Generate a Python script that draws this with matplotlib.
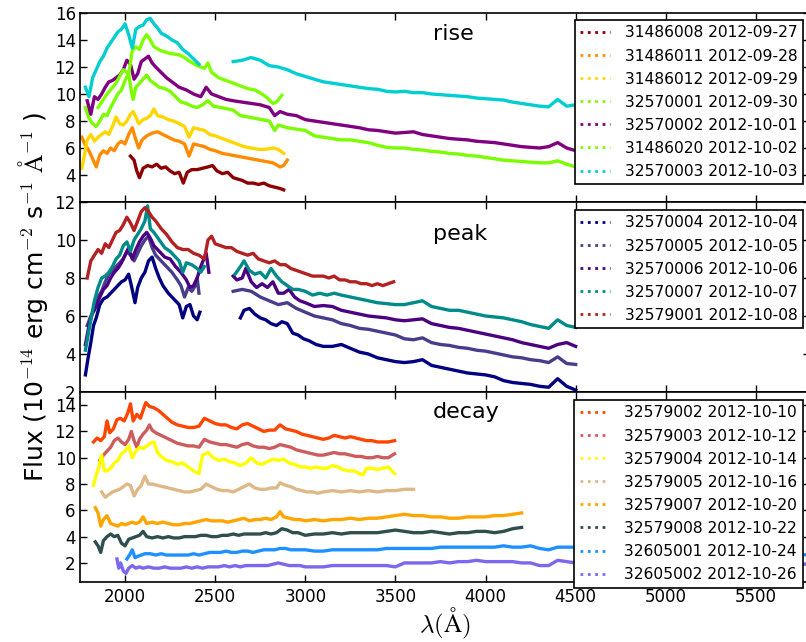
import numpy as np
import matplotlib
matplotlib.use("Agg")
import matplotlib.pyplot as plt
from matplotlib.lines import Line2D

plt.rcParams['font.family'] = ['DejaVu Sans']
plt.rcParams['mathtext.fontset'] = 'cm'

NaN = float('nan')

# ---------------- RISE ----------------
rise_labels = ['31486008 2012-09-27', '31486011 2012-09-28', '31486012 2012-09-29',
               '32570001 2012-09-30', '32570002 2012-10-01', '31486020 2012-10-02',
               '32570003 2012-10-03']
rise_colors = ['darkred', 'darkorange', 'gold', 'lawngreen', 'purple', 'chartreuse', 'darkturquoise']

wl_31486008 = [2030, 2050, 2065, 2080, 2100, 2125, 2150, 2175, 2200, 2225, 2250, 2275, 2300, 2323, 2345,
               2370, 2400, 2430, 2460, 2485, 2510, 2540, 2570, 2600, 2625, 2650, 2680, 2710, 2740, 2770,
               2800, 2830, 2860, 2880]
fx_31486008 = [5.4, 5.1, 4.3, 3.8, 4.5, 4.7, 4.6, 4.8, 4.5, 4.6, 4.3, 4.1, 4.2, 3.4, 4.2,
               4.4, 4.4, 4.5, 4.6, 4.7, 4.3, 4.1, 4.2, 3.8, 3.7, 3.6, 3.4, 3.4, 3.3, 3.4,
               3.2, 3.1, 3.0, 2.9]

wl_31486011 = [1760, 1780, 1800, 1820, 1840, 1860, 1880, 1900, 1920, 1940, 1960, 1980, 2000, 2020, 2040,
               2060, 2075, 2095, 2120, 2150, 2180, 2210, 2240, 2270, 2300, 2330, 2355, 2380, 2410, 2440,
               2470, 2500, 2540, 2580, 2620, 2660, 2700, 2740, 2780, 2820, 2860, 2880, 2900]
fx_31486011 = [6.8, 6.2, 5.8, 5.2, 4.6, 5.5, 5.8, 5.6, 6.0, 5.8, 6.3, 6.5, 6.3, 7.0, 7.5,
               6.6, 6.0, 6.6, 6.9, 7.1, 7.2, 7.0, 6.8, 6.6, 6.5, 6.3, 5.4, 6.3, 6.2, 6.1,
               5.9, 5.8, 5.6, 5.5, 5.4, 5.3, 5.2, 5.1, 5.0, 4.9, 4.6, 4.7, 5.1]

wl_31486012 = [1760, 1775, 1790, 1810, 1830, 1850, 1870, 1890, 1910, 1930, 1950, 1970, 1990, 2010, 2030,
               2045, 2060, 2075, 2100, 2120, 2140, 2160, 2180, 2210, 2240, 2270, 2300, 2330, 2355, 2380,
               2410, 2440, 2470, 2500, 2540, 2580, 2620, 2660, 2700, 2740, 2780, 2820, 2850, 2880]
fx_31486012 = [4.5, 5.5, 6.6, 7.0, 6.5, 6.8, 7.0, 7.2, 7.0, 7.6, 8.3, 7.8, 7.7, 8.0, 8.5,
               8.7, 8.3, 7.8, 8.1, 8.2, 8.4, 8.9, 8.4, 8.3, 8.1, 8.0, 7.8, 7.6, 6.8, 7.5,
               7.4, 7.3, 7.0, 6.9, 6.7, 6.5, 6.3, 6.1, 6.0, 5.9, 5.9, 6.0, 5.9, 5.6]

wl_32570001 = [1780, 1800, 1820, 1840, 1860, 1880, 1900, 1920, 1940, 1960, 1980, 2000, 2020, 2035, 2045,
               2060, 2080, 2100, 2120, 2140, 2160, 2190, 2220, 2250, 2280, 2310, 2340, 2370, 2400, 2430,
               2460, 2490, 2530, 2570, 2600, 2620, 2640, 2680, 2720, 2760, 2800, 2830, 2850, 2900, 2950,
               3000, 3050, 3100, 3150, 3200, 3250, 3300, 3350, 3400, 3450, 3500, 3550, 3600, 3650, 3700,
               3750, 3800, 3850, 3900, 3950, 4000, 4050, 4100, 4150, 4200, 4250, 4300, 4350, 4400, 4450,
               4500]
fx_32570001 = [9.0, 8.2, 7.8, 7.6, 8.0, 8.5, 8.4, 9.0, 9.5, 10.0, 10.3, 11.0, 11.5, 10.2, 9.6,
               10.5, 10.8, 11.1, 11.4, 11.0, 10.8, 10.5, 10.4, 10.2, 9.8, 9.4, 9.3, 9.1, 9.0, 9.2,
               9.5, 9.1, 9.0, 8.9, 8.8, 8.6, 8.4, 8.3, 8.2, 8.1, 8.0, 7.3, 7.7, 7.5, 7.4,
               7.3, 6.9, 6.8, 6.7, 6.6, 6.6, 6.5, 6.4, 6.2, 6.05, 6.0, 6.0, 5.9, 5.85, 5.75,
               5.7, 5.6, 5.55, 5.45, 5.4, 5.3, 5.2, 5.1, 5.05, 5.0, 4.95, 4.9, 4.9, 5.05, 4.8,
               4.6]

wl_32570002 = [1790, 1810, 1830, 1850, 1870, 1890, 1910, 1930, 1950, 1970, 1990, 2010, 2030, 2050, 2070,
               2090, 2110, 2130, 2150, 2170, 2200, 2230, 2260, 2300, 2340, 2380, 2420, 2450, 2480, 2520,
               2560, 2600, 2650, 2700, 2750, 2800, 2830, 2860, 2900, 2950, 3000, 3050, 3100, 3150, 3200,
               3250, 3300, 3350, 3400, 3450, 3500, 3550, 3600, 3650, 3700, 3750, 3800, 3850, 3900, 3950,
               4000, 4050, 4100, 4150, 4200, 4250, 4300, 4350, 4400, 4450, 4500]
fx_32570002 = [9.5, 8.5, 9.8, 9.6, 10.0, 10.5, 10.9, 11.0, 11.2, 11.4, 11.8, 12.5, 12.2, 11.1, 11.5,
               12.4, 12.6, 12.8, 12.3, 12.0, 11.6, 11.2, 10.9, 10.5, 10.3, 10.0, 9.8, 10.5, 10.0, 9.8,
               9.6, 9.5, 9.4, 9.3, 9.2, 9.0, 8.4, 8.7, 8.5, 8.4, 8.1, 8.0, 7.9, 7.8, 7.7,
               7.6, 7.5, 7.35, 7.3, 7.2, 7.1, 7.15, 7.2, 7.0, 6.9, 6.8, 6.7, 6.65, 6.6, 6.5,
               6.45, 6.4, 6.3, 6.2, 6.1, 6.05, 6.0, 6.1, 6.4, 6.0, 5.8]

wl_31486020 = [1850, 1900, 1950, 1990, 2020, 2040, 2060, 2080, 2100, 2120, 2140, 2160, 2200, 2250, 2300,
               2330, 2360, 2400, 2440, 2460, 2480, 2520, 2560, 2600, 2640, 2680, 2720, 2760, 2790, 2820,
               2840, 2870]
fx_31486020 = [9.0, 10.0, 10.8, 11.8, 11.5, 13.2, 13.5, 13.3, 14.0, 14.4, 14.0, 13.5, 13.2, 13.0, 12.9,
               12.7, 12.4, 12.1, 11.9, 12.3, 11.6, 11.2, 11.0, 10.8, 10.6, 10.4, 10.3, 10.0, 9.7, 9.3,
               9.4, 9.9]

wl_32570003 = [1780, 1800, 1820, 1840, 1860, 1880, 1900, 1920, 1940, 1960, 1980, 2000, 2020, 2040, 2060,
               2080, 2100, 2120, 2140, 2160, 2180, 2200, 2230, 2260, 2290, 2320, 2350, 2380, 2410, 2500,
               2600, 2650, 2700, 2750, 2800, 2850, 2900, 2950, 3000, 3050, 3100, 3150, 3200, 3250, 3300,
               3350, 3400, 3450, 3500, 3550, 3600, 3650, 3700, 3750, 3800, 3850, 3900, 3950, 4000, 4050,
               4100, 4150, 4200, 4250, 4300, 4350, 4400, 4450, 4500]
fx_32570003 = [10.5, 9.8, 11.2, 11.8, 12.4, 12.8, 13.4, 13.8, 14.2, 14.6, 14.8, 15.2, 14.4, 13.4, 14.8,
               15.0, 15.1, 15.5, 15.6, 15.2, 14.9, 14.5, 14.3, 14.0, 13.8, 13.3, 13.0, 12.6, 12.2, NaN,
               12.4, 12.5, 12.7, 12.5, 12.1, 12.0, 11.8, 11.5, 11.3, 11.1, 10.9, 10.8, 10.7, 10.6, 10.5,
               10.4, 10.35, 10.2, 10.15, 10.2, 10.1, 10.1, 10.0, 9.95, 9.9, 9.85, 9.8, 9.7, 9.65, 9.6,
               9.55, 9.4, 9.3, 9.2, 9.1, 9.05, 9.6, 9.1, 9.2]

rise_wl = [wl_31486008, wl_31486011, wl_31486012, wl_32570001, wl_32570002, wl_31486020, wl_32570003]
rise_fx = [fx_31486008, fx_31486011, fx_31486012, fx_32570001, fx_32570002, fx_31486020, fx_32570003]

# ---------------- PEAK ----------------
peak_labels = ['32570004 2012-10-04', '32570005 2012-10-05', '32570006 2012-10-06',
               '32570007 2012-10-07', '32579001 2012-10-08']
peak_colors = ['navy', 'darkslateblue', 'indigo', 'darkcyan', 'firebrick']

wl_32570004 = [1780, 1795, 1810, 1825, 1840, 1860, 1880, 1900, 1920, 1940, 1960, 1980, 2000, 2020, 2035,
               2055, 2070, 2090, 2110, 2130, 2150, 2170, 2190, 2210, 2240, 2270, 2300, 2320, 2340, 2360,
               2380, 2400, 2415, 2500,
               2640, 2660, 2690, 2720, 2750, 2780, 2810, 2840, 2870, 2900, 2930, 2960, 2990, 3020, 3060,
               3100, 3150, 3200, 3250, 3300, 3350, 3400, 3450, 3500, 3550, 3600, 3650, 3700, 3750, 3800,
               3850, 3900, 3950, 4000, 4050, 4100, 4150, 4200, 4250, 4300, 4350, 4400, 4450, 4500]
fx_32570004 = [2.9, 3.8, 4.6, 5.5, 5.9, 6.6, 6.9, 7.0, 7.2, 7.4, 7.6, 7.8, 7.9, 8.2, 7.6,
               6.7, 7.5, 8.0, 8.3, 8.9, 9.1, 8.5, 8.0, 7.6, 7.2, 6.9, 6.6, 5.9, 6.5, 6.6,
               6.0, 5.8, 6.2, NaN,
               5.9, 6.3, 6.4, 6.1, 5.9, 5.8, 5.6, 5.5, 5.7, 5.6, 5.1, 5.0, 4.8, 4.7, 4.5,
               4.4, 4.4, 4.5, 4.3, 4.1, 4.0, 3.8, 3.7, 3.6, 3.55, 3.6, 3.7, 3.4, 3.3, 3.2,
               3.1, 3.0, 2.95, 2.9, 2.8, 2.6, 2.5, 2.45, 2.4, 2.3, 2.25, 2.7, 2.3, 2.1]

wl_32570005 = [1790, 1810, 1830, 1850, 1870, 1890, 1910, 1930, 1950, 1970, 1990, 2010, 2030, 2050, 2070,
               2090, 2110, 2130, 2150, 2170, 2200, 2230, 2260, 2290, 2310, 2330, 2350, 2370, 2390, 2400,
               2410, 2500,
               2600, 2650, 2700, 2750, 2800, 2850, 2900, 2950, 3000, 3050, 3100, 3150, 3200, 3250, 3300,
               3350, 3400, 3450, 3500, 3550, 3600, 3650, 3700, 3750, 3800, 3850, 3900, 3950, 4000, 4050,
               4100, 4150, 4200, 4250, 4300, 4350, 4400, 4450, 4500]
fx_32570005 = [5.5, 6.0, 6.3, 7.0, 7.3, 7.8, 8.2, 8.4, 8.6, 8.8, 9.0, 9.4, 9.2, 8.9, 9.3,
               9.7, 10.0, 10.2, 9.6, 9.2, 8.9, 8.6, 8.3, 7.9, 7.6, 7.0, 7.5, 7.3, 7.6, 8.0,
               7.2, NaN,
               7.3, 7.4, 7.3, 7.0, 6.8, 6.6, 6.7, 6.4, 6.2, 6.0, 5.9, 5.8, 5.6, 5.5, 5.35,
               5.3, 5.2, 5.1, 5.0, 4.8, 4.75, 4.85, 4.6, 4.5, 4.45, 4.35, 4.3, 4.2, 4.15, 4.05,
               3.95, 3.85, 3.8, 3.7, 3.65, 3.55, 3.85, 3.5, 3.45]

wl_32570006 = [1780, 1800, 1820, 1840, 1860, 1880, 1900, 1920, 1940, 1960, 1980, 2000, 2020, 2040, 2060,
               2080, 2100, 2120, 2140, 2160, 2190, 2220, 2250, 2280, 2310, 2340, 2360, 2380, 2400, 2420,
               2450, 2465, 2530,
               2600, 2620, 2650, 2670, 2700, 2730, 2760, 2790, 2820, 2850, 2880, 2910, 2940, 2970, 3000,
               3050, 3100, 3150, 3200, 3250, 3300, 3350, 3400, 3450, 3500, 3550, 3600, 3650, 3700, 3750,
               3800, 3850, 3900, 3950, 4000, 4050, 4100, 4150, 4200, 4250, 4300, 4350, 4400, 4450, 4500]
fx_32570006 = [4.5, 5.5, 6.2, 6.5, 7.0, 7.4, 7.6, 8.0, 8.3, 8.5, 8.8, 9.2, 9.6, 9.0, 9.5,
               9.9, 10.2, 10.4, 10.1, 9.7, 9.4, 9.1, 9.0, 8.6, 8.3, 7.9, 7.5, 7.6, 8.0, 8.6,
               9.3, 8.3, NaN,
               8.1, 7.9, 8.0, 8.5, 7.8, 7.5, 7.7, 7.5, 7.8, 7.2, 7.2, 7.4, 7.0, 6.8, 6.7,
               6.5, 6.55, 6.5, 6.3, 6.2, 6.1, 6.0, 5.95, 5.9, 5.8, 5.75, 5.8, 5.85, 5.6, 5.5,
               5.4, 5.35, 5.25, 5.15, 5.05, 4.95, 4.85, 4.75, 4.6, 4.5, 4.4, 4.3, 4.5, 4.6, 4.4]

wl_32570007 = [1780, 1795, 1810, 1830, 1850, 1870, 1890, 1910, 1930, 1950, 1970, 1990, 2010, 2030, 2050,
               2070, 2090, 2110, 2125, 2140, 2160, 2190, 2220, 2250, 2280, 2300, 2320, 2340, 2370, 2400,
               2420, 2440, 2520,
               2610, 2640, 2660, 2690, 2720, 2750, 2780, 2810, 2840, 2870, 2900, 2930, 2960, 3000, 3040,
               3080, 3120, 3160, 3200, 3250, 3300, 3350, 3400, 3450, 3500, 3550, 3600, 3650, 3700, 3750,
               3800, 3850, 3900, 3950, 4000, 4050, 4100, 4150, 4200, 4250, 4300, 4350, 4400, 4450, 4500]
fx_32570007 = [4.2, 5.0, 5.8, 6.8, 7.5, 8.0, 8.1, 8.3, 8.6, 9.0, 9.2, 9.7, 9.9, 9.4, 10.0,
               10.3, 10.6, 11.0, 11.8, 10.6, 10.4, 10.0, 9.6, 9.4, 9.1, 8.9, 8.3, 8.8, 8.7, 8.5,
               8.3, 8.6, NaN,
               8.2, 8.6, 8.9, 8.4, 8.2, 8.3, 8.0, 8.5, 8.1, 7.8, 7.6, 7.4, 7.4, 7.3, 7.1,
               7.2, 7.1, 7.2, 7.1, 7.0, 6.9, 6.8, 6.7, 6.65, 6.6, 6.6, 6.7, 6.8, 6.5, 6.4,
               6.3, 6.3, 6.2, 6.1, 6.0, 5.95, 5.9, 5.8, 5.7, 5.55, 5.45, 5.35, 5.8, 5.5, 5.4]

wl_32579001 = [1790, 1810, 1830, 1850, 1870, 1890, 1910, 1930, 1950, 1970, 1990, 2010, 2030, 2050, 2070,
               2090, 2110, 2130, 2150, 2170, 2200, 2230, 2260, 2290, 2320, 2350, 2380, 2410, 2440, 2460,
               2480, 2500, 2530, 2560, 2590, 2620, 2650, 2680, 2710, 2740, 2770, 2800, 2830, 2860, 2890,
               2920, 2950, 2980, 3010, 3040, 3070, 3100, 3130, 3160, 3190, 3220, 3250, 3280, 3310, 3340,
               3370, 3400, 3430, 3460, 3490]
fx_32579001 = [8.0, 8.9, 9.2, 9.5, 9.3, 9.8, 9.6, 10.0, 10.4, 10.5, 10.8, 11.2, 10.9, 10.5, 11.0,
               11.5, 11.7, 11.5, 11.2, 11.0, 10.6, 10.3, 9.9, 9.6, 9.5, 9.5, 9.3, 9.2, 9.0, 10.0,
               10.2, 9.8, 9.7, 9.6, 9.6, 9.4, 9.3, 9.2, 9.3, 9.0, 8.9, 8.8, 8.9, 8.7, 8.7,
               8.5, 8.4, 8.3, 8.2, 8.1, 8.1, 8.1, 8.0, 8.1, 7.9, 7.9, 7.8, 7.8, 7.7, 7.7,
               7.6, 7.7, 7.6, 7.7, 7.8]

peak_wl = [wl_32570004, wl_32570005, wl_32570006, wl_32570007, wl_32579001]
peak_fx = [fx_32570004, fx_32570005, fx_32570006, fx_32570007, fx_32579001]

# ---------------- DECAY ----------------
decay_labels = ['32579002 2012-10-10', '32579003 2012-10-12', '32579004 2012-10-14',
                '32579005 2012-10-16', '32579007 2012-10-20', '32579008 2012-10-22',
                '32605001 2012-10-24', '32605002 2012-10-26']
decay_colors = ['orangered', 'indianred', 'yellow', 'burlywood', 'orange', 'darkslategray',
                'dodgerblue', 'mediumslateblue']

wl_32579002 = [1825, 1845, 1865, 1885, 1900, 1915, 1935, 1955, 1975, 1995, 2015, 2030, 2045, 2065, 2085,
               2105, 2115, 2135, 2160, 2185, 2210, 2235, 2260, 2290, 2320, 2350, 2380, 2410, 2440, 2470,
               2500, 2530, 2560, 2590, 2620, 2650, 2680, 2710, 2740, 2770, 2800, 2830, 2860, 2890, 2920,
               2950, 2980, 3010, 3040, 3070, 3100, 3130, 3160, 3190, 3220, 3250, 3280, 3310, 3340, 3370,
               3400, 3430, 3460, 3495]
fx_32579002 = [11.2, 11.5, 11.3, 11.6, 12.8, 11.9, 12.2, 12.9, 13.0, 12.8, 13.4, 14.1, 12.8, 13.3, 13.0,
               13.8, 14.2, 13.9, 13.8, 13.6, 13.3, 13.0, 12.7, 12.5, 12.4, 12.3, 12.3, 12.4, 13.0, 12.8,
               12.6, 12.5, 12.5, 12.3, 12.2, 12.5, 12.6, 12.4, 12.2, 12.0, 12.1, 12.1, 12.5, 12.2, 12.1,
               12.0, 11.8, 11.7, 11.6, 11.5, 11.4, 11.5, 11.7, 11.6, 11.5, 11.6, 11.5, 11.4, 11.3, 11.3,
               11.2, 11.2, 11.2, 11.3]

wl_32579003 = [1860, 1880, 1900, 1920, 1940, 1960, 1980, 2000, 2020, 2035, 2050, 2065, 2080, 2100, 2120,
               2135, 2150, 2170, 2200, 2230, 2260, 2290, 2320, 2350, 2380, 2410, 2440, 2470, 2500, 2530,
               2560, 2590, 2620, 2650, 2680, 2710, 2740, 2770, 2800, 2830, 2860, 2890, 2920, 2950, 2980,
               3010, 3040, 3070, 3100, 3130, 3160, 3190, 3220, 3250, 3280, 3310, 3340, 3370, 3400, 3430,
               3460, 3495]
fx_32579003 = [9.8, 10.2, 10.5, 10.8, 11.3, 11.5, 11.2, 11.0, 11.4, 12.0, 11.3, 10.8, 11.4, 11.8, 12.1,
               12.5, 12.1, 11.9, 11.7, 11.5, 11.3, 11.1, 11.0, 10.9, 10.9, 10.8, 11.4, 11.2, 11.1, 11.0,
               11.0, 10.9, 10.8, 11.0, 11.1, 10.9, 10.8, 10.8, 10.7, 10.8, 11.0, 10.9, 10.8, 10.6, 10.5,
               10.4, 10.3, 10.2, 10.2, 10.3, 10.4, 10.3, 10.3, 10.2, 10.1, 10.1, 10.0, 10.0, 10.1, 10.0,
               10.0, 10.3]

wl_32579004 = [1825, 1840, 1855, 1870, 1885, 1900, 1920, 1940, 1960, 1980, 2000, 2020, 2040, 2060, 2080,
               2100, 2120, 2140, 2160, 2180, 2200, 2230, 2260, 2290, 2320, 2350, 2380, 2410, 2430, 2460,
               2490, 2520, 2550, 2580, 2610, 2640, 2670, 2700, 2730, 2760, 2790, 2820, 2850, 2880, 2910,
               2940, 2970, 3000, 3030, 3060, 3090, 3120, 3150, 3180, 3210, 3240, 3270, 3300, 3320, 3340,
               3370, 3400, 3430, 3460, 3495]
fx_32579004 = [7.9, 8.7, 9.3, 10.2, 9.0, 9.0, 9.2, 9.6, 9.8, 10.3, 10.5, 10.9, 10.0, 10.5, 10.8,
               10.7, 10.9, 11.1, 11.2, 10.4, 10.1, 9.8, 9.7, 9.5, 9.6, 9.3, 9.0, 8.8, 10.2, 10.4,
               10.0, 9.8, 9.9, 9.7, 9.6, 9.4, 9.6, 10.0, 9.6, 9.5, 9.7, 9.9, 9.8, 9.9, 9.6,
               9.5, 9.3, 9.3, 9.2, 9.3, 9.2, 9.2, 9.4, 9.3, 9.1, 9.0, 9.0, 8.8, 8.7, 9.2,
               9.2, 9.1, 9.2, 9.3, 8.8]

wl_32579005 = [1870, 1890, 1910, 1930, 1950, 1970, 1990, 2010, 2030, 2050, 2070, 2090, 2110, 2130, 2150,
               2180, 2210, 2240, 2270, 2300, 2330, 2360, 2390, 2420, 2450, 2480, 2510, 2540, 2570, 2600,
               2630, 2660, 2690, 2720, 2750, 2780, 2810, 2840, 2860, 2890, 2920, 2950, 2980, 3010, 3040,
               3070, 3100, 3150, 3200, 3250, 3300, 3350, 3400, 3450, 3500, 3550, 3600]
fx_32579005 = [7.4, 7.0, 7.2, 7.4, 7.5, 7.6, 7.8, 8.0, 7.9, 7.1, 7.6, 7.9, 8.6, 8.0, 8.0,
               7.9, 7.8, 7.7, 7.6, 7.5, 7.4, 7.4, 7.5, 7.6, 8.0, 7.8, 7.6, 7.5, 7.5, 7.4,
               7.6, 7.8, 8.0, 7.7, 7.6, 7.6, 7.7, 7.7, 8.1, 7.9, 7.8, 7.6, 7.5, 7.4, 7.4,
               7.3, 7.4, 7.5, 7.4, 7.5, 7.4, 7.5, 7.4, 7.5, 7.5, 7.6, 7.6]

wl_32579007 = [1835, 1850, 1865, 1880, 1900, 1920, 1940, 1960, 1980, 2000, 2020, 2040, 2060, 2080, 2100,
               2120, 2150, 2180, 2210, 2240, 2270, 2300, 2330, 2360, 2390, 2420, 2450, 2480, 2510, 2540,
               2570, 2600, 2630, 2660, 2690, 2720, 2750, 2780, 2810, 2840, 2860, 2880, 2910, 2940, 2970,
               3000, 3050, 3100, 3150, 3200, 3250, 3300, 3350, 3400, 3450, 3500, 3550, 3600, 3650, 3700,
               3750, 3800, 3850, 3900, 3950, 4000, 4050, 4100, 4150, 4200]
fx_32579007 = [6.2, 5.8, 4.8, 5.3, 5.6, 5.0, 4.9, 4.8, 5.0, 4.9, 5.0, 5.1, 5.0, 5.1, 5.5,
               5.0, 5.1, 5.0, 5.1, 5.0, 4.9, 4.9, 5.0, 5.0, 5.1, 5.2, 5.3, 5.2, 5.2, 5.2,
               5.1, 5.2, 5.3, 5.4, 5.2, 5.3, 5.3, 5.4, 5.3, 5.5, 5.9, 5.5, 5.4, 5.3, 5.3,
               5.2, 5.3, 5.2, 5.3, 5.3, 5.4, 5.3, 5.4, 5.4, 5.5, 5.6, 5.7, 5.6, 5.6, 5.5,
               5.5, 5.4, 5.4, 5.5, 5.5, 5.5, 5.6, 5.6, 5.7, 5.8]

wl_32579008 = [1835, 1850, 1865, 1880, 1900, 1920, 1940, 1960, 1980, 2000, 2020, 2040, 2060, 2080, 2100,
               2120, 2150, 2180, 2210, 2240, 2270, 2300, 2330, 2360, 2390, 2420, 2450, 2480, 2510, 2540,
               2570, 2600, 2630, 2660, 2690, 2720, 2750, 2780, 2810, 2840, 2870, 2900, 2930, 2960, 3000,
               3050, 3100, 3150, 3200, 3250, 3300, 3350, 3400, 3450, 3500, 3550, 3600, 3650, 3700, 3750,
               3800, 3850, 3900, 3950, 4000, 4050, 4100, 4150, 4200]
fx_32579008 = [3.6, 3.3, 2.8, 3.7, 4.0, 4.2, 4.0, 4.1, 3.5, 3.3, 3.8, 3.9, 4.0, 4.1, 4.4,
               4.0, 3.9, 4.0, 3.9, 4.0, 3.9, 3.9, 4.0, 4.0, 4.0, 4.1, 4.1, 4.0, 4.0, 4.1,
               4.1, 4.2, 4.1, 4.2, 4.2, 4.2, 4.2, 4.3, 4.2, 4.3, 4.6, 4.5, 4.3, 4.3, 4.1,
               4.2, 4.2, 4.3, 4.2, 4.3, 4.3, 4.3, 4.3, 4.4, 4.5, 4.4, 4.3, 4.3, 4.4, 4.3,
               4.2, 4.3, 4.3, 4.4, 4.4, 4.3, 4.4, 4.6, 4.7]

wl_32605001 = [2010, 2025, 2040, 2055, 2070, 2090, 2110, 2140, 2170, 2200, 2230, 2260, 2290, 2320, 2350,
               2380, 2410, 2440, 2470, 2500, 2530, 2560, 2590, 2620, 2650, 2680, 2710, 2740, 2770, 2800,
               2830, 2860, 2890, 2920, 2950, 3000, 3050, 3100, 3150, 3200, 3250, 3300, 3350, 3400, 3450,
               3500, 3550, 3600, 3650, 3700, 3750, 3800, 3850, 3900, 3950, 4000, 4050, 4100, 4150, 4200,
               4250, 4300, 4350, 4400, 4450, 4500, 4600, 4700, 4800, 4900, 5000, 5100, 5200, 5300, 5400,
               5500, 5600, 5700, 5790]
fx_32605001 = [2.3, 2.6, 3.0, 2.4, 2.5, 2.6, 2.7, 2.7, 2.6, 2.7, 2.6, 2.6, 2.6, 2.6, 2.6,
               2.7, 2.6, 2.7, 2.8, 2.8, 2.8, 2.9, 2.8, 2.8, 2.9, 2.9, 2.8, 2.9, 3.0, 3.0,
               3.0, 3.1, 3.1, 3.0, 3.0, 3.0, 2.9, 2.9, 3.0, 3.0, 3.0, 3.0, 3.0, 3.0, 3.1,
               3.1, 3.1, 3.1, 3.1, 3.1, 3.2, 3.2, 3.2, 3.2, 3.2, 3.2, 3.2, 3.3, 3.2, 3.2,
               3.3, 3.1, 3.0, 3.2, 3.2, 3.2, 3.1, 3.1, 3.0, 3.0, 2.9, 2.9, 2.9, 2.8, 2.8,
               2.8, 2.7, 2.7, 2.6]

wl_32605002 = [1955, 1965, 1975, 1990, 2005, 2020, 2040, 2060, 2080, 2100, 2130, 2160, 2190, 2220, 2250,
               2280, 2310, 2340, 2370, 2400, 2430, 2460, 2490, 2520, 2550, 2580, 2610, 2640, 2670, 2700,
               2730, 2760, 2790, 2820, 2850, 2880, 2910, 2940, 2970, 3000, 3050, 3100, 3150, 3200, 3250,
               3300, 3350, 3400, 3450, 3500, 3550, 3600, 3650, 3700, 3750, 3800, 3850, 3900, 3950, 4000,
               4050, 4100, 4150, 4200, 4250, 4300, 4350, 4400, 4450, 4500, 4600, 4700, 4800, 4900, 5000,
               5100, 5200, 5300, 5400, 5500, 5600, 5700, 5790]
fx_32605002 = [2.3, 1.6, 2.0, 1.4, 1.2, 1.6, 1.8, 1.6, 1.7, 1.6, 1.7, 1.6, 1.6, 1.7, 1.6,
               1.6, 1.6, 1.7, 1.6, 1.7, 1.6, 1.7, 1.7, 1.7, 1.8, 1.7, 1.8, 1.7, 1.8, 1.8,
               1.8, 1.8, 1.8, 1.9, 2.0, 1.9, 1.8, 1.8, 1.8, 1.7, 1.7, 1.7, 1.8, 1.8, 1.8,
               1.8, 1.8, 1.8, 1.8, 1.7, 2.0, 2.0, 2.0, 2.0, 2.1, 2.0, 2.1, 2.1, 2.2, 2.1,
               2.1, 2.1, 2.1, 2.0, 2.0, 1.8, 1.8, 2.2, 2.1, 2.0, 2.0, 2.0, 1.9, 1.9, 1.9,
               1.9, 1.9, 1.9, 1.9, 1.9, 1.9, 1.9, 1.9]

decay_wl = [wl_32579002, wl_32579003, wl_32579004, wl_32579005, wl_32579007, wl_32579008,
            wl_32605001, wl_32605002]
decay_fx = [fx_32579002, fx_32579003, fx_32579004, fx_32579005, fx_32579007, fx_32579008,
            fx_32605001, fx_32605002]

# ---------------- FIGURE ----------------
W, H = 806, 642
fig = plt.figure(figsize=(W / 100, H / 100), dpi=100)

def px_box(x0, y0, x1, y1):
    return [x0 / W, 1 - y1 / H, (x1 - x0) / W, (y1 - y0) / H]

panels = [
    dict(box=px_box(80, 13, 810, 202), ylim=(2, 16), yticks=[4, 6, 8, 10, 12, 14, 16],
         wl=rise_wl, fx=rise_fx, labels=rise_labels, colors=rise_colors,
         name='rise', name_y=40, leg_top=20),
    dict(box=px_box(80, 202, 810, 392), ylim=(2, 12), yticks=[2, 4, 6, 8, 10, 12],
         wl=peak_wl, fx=peak_fx, labels=peak_labels, colors=peak_colors,
         name='peak', name_y=240, leg_top=210),
    dict(box=px_box(80, 392, 810, 582), ylim=(0.55, 15), yticks=[2, 4, 6, 8, 10, 12, 14],
         wl=decay_wl, fx=decay_fx, labels=decay_labels, colors=decay_colors,
         name='decay', name_y=418, leg_top=400),
]

axes = []
for p in panels:
    ax = fig.add_axes(p['box'])
    for wl, fx, c in zip(p['wl'], p['fx'], p['colors']):
        ax.plot(wl, fx, color=c, lw=2.4, solid_joinstyle='round')
    ax.set_xlim(1750, 5800)
    ax.set_ylim(*p['ylim'])
    ax.set_yticks(p['yticks'])
    ax.set_xticks([2000, 2500, 3000, 3500, 4000, 4500, 5000, 5500])
    ax.tick_params(direction='in', length=5, width=1, top=True, right=True, labelsize=12)
    ax.tick_params(axis='x', pad=4)
    ax.tick_params(axis='y', pad=3)
    for s in ax.spines.values():
        s.set_linewidth(1.2)
    handles = [Line2D([], [], color=c, ls=':', lw=2) for c in p['colors']]
    leg = ax.legend(handles, p['labels'], loc='upper right',
                    bbox_to_anchor=(803 / W, 1 - p['leg_top'] / H),
                    bbox_transform=fig.transFigure, borderaxespad=0,
                    fontsize=11.2, labelspacing=0.52, handlelength=1.9,
                    handletextpad=0.96, borderpad=0.35, fancybox=False,
                    framealpha=1, edgecolor='black')
    leg.get_frame().set_linewidth(1.2)
    fig.text(433 / W, 1 - p['name_y'] / H, p['name'], fontsize=16, va='baseline', ha='left')
    axes.append(ax)

axes[0].set_xticklabels([])
axes[1].set_xticklabels([])
axes[1].set_ylabel(r'Flux (10$^{-14}$ erg cm$^{-2}$ s$^{-1}$ $\mathrm{\AA}^{-1}$ )', fontsize=18, labelpad=3)
axes[2].set_xlabel(r'$\lambda(\mathrm{\AA})$', fontsize=18, labelpad=0)

fig.savefig('out.png', dpi=100)
